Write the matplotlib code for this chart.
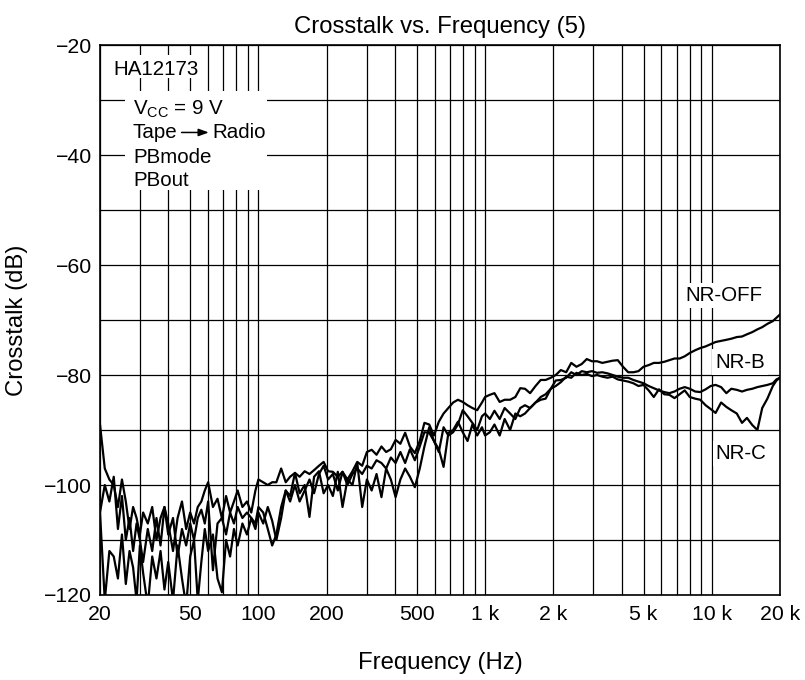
import matplotlib
matplotlib.use('Agg')
import matplotlib.pyplot as plt
from matplotlib.patches import Rectangle
from matplotlib.ticker import NullFormatter

##### Datos (frecuencia en Hz, diafonia en dB)
freq_hz = [
    20, 21, 22, 23, 24, 25, 26, 27, 28, 29,
    30, 31, 32.5, 34, 35.5, 37, 38.5, 40, 42, 44,
    46, 48, 50, 52, 54, 56, 58, 60, 63, 66,
    69, 72, 75, 78, 81, 85, 89, 93, 97, 100,
    105, 110, 115, 120, 126, 132, 138, 145, 152, 160,
    168, 176, 185, 194, 203, 213, 224, 235, 247, 260,
    273, 287, 301, 316, 332, 349, 366, 384, 403, 423,
    444, 466, 490, 515, 540, 567, 595, 625, 656, 689,
    723, 759, 797, 837, 879, 923, 969, 1000,
    1050, 1100, 1160, 1220, 1290, 1360, 1430, 1500, 1580, 1670,
    1760, 1850, 1950, 2050, 2160, 2280, 2400, 2530, 2670, 2810,
    2960, 3120, 3290, 3470, 3650, 3850, 4060, 4280, 4510, 4750,
    5000, 5270, 5550, 5850, 6170, 6500, 6850, 7220, 7600, 8000,
    8450, 8900, 9400, 9900, 10400, 11000, 11600, 12200, 12900, 13600,
    14300, 15100, 15900, 16700, 17600, 18600, 19300, 20000,
]

nr_off = [
    -89, -97, -99, -100, -104, -99, -103, -108, -104, -106,
    -109, -105, -107, -104, -110, -106, -104, -107, -112, -106,
    -103, -108, -105, -107, -104, -103, -101, -99.5, -104, -102.5,
    -106, -102, -105, -103, -101, -104, -103, -105, -101, -99,
    -99.5, -100, -99.5, -99.5, -97, -99.5, -98.5, -97.8, -98.5, -97.5,
    -98, -97.3, -96.5, -95.8, -97.5, -97.6, -98.5, -97.6, -99, -97.5,
    -95.8, -96.5, -94, -93.6, -94.5, -93, -94, -93.5, -91.8, -92.5,
    -90.5, -93, -94.2, -92, -88.7, -89, -91, -88.5, -87, -86,
    -85, -84.5, -84.9, -85.5, -86, -86.4, -85, -84,
    -83.6, -83.3, -84.9, -84.5, -84.5, -84, -82.4, -82.5, -83.3, -82,
    -80.9, -80.9, -80.5, -80, -79.1, -79.5, -77.8, -78.5, -78, -77.1,
    -77.5, -77.5, -77.8, -77.6, -77.4, -77.3, -78.5, -79.5, -79.5, -79.3,
    -78.5, -78.2, -77.8, -77.8, -77.6, -77.3, -77, -77, -76.6, -76,
    -75.5, -75.1, -74.8, -74.4, -74, -73.8, -73.6, -73.4, -73.1, -73,
    -72.6, -72.2, -71.7, -71.3, -70.7, -70.2, -69.6, -69,
]

nr_b = [
    -105, -100, -103, -98.5, -108, -102, -110, -106, -112, -107,
    -110, -114, -108, -112, -106, -111, -104, -109, -106, -113,
    -108, -111, -107, -110, -106, -104.5, -107, -103, -115.5, -107,
    -106, -109, -105, -107, -104, -106, -105, -106, -107, -104,
    -105, -108, -111, -109, -104, -101, -103, -100, -103, -101,
    -99, -101.5, -98, -96.5, -99, -98, -101, -97.6, -100, -98,
    -97, -98, -96.5, -97, -95.5, -96, -97, -95, -96, -94,
    -96, -93.5, -95.5, -93, -90.4, -90.5, -92, -94, -89.5, -91,
    -90.4, -89, -86.4, -87.5, -88.7, -90, -87.5, -87,
    -88, -86.5, -88, -86, -87, -88, -86, -85.5, -86, -85,
    -84.5, -84.3, -82.5, -81, -80.9, -80.5, -79.5, -80, -79.3, -79.5,
    -79.3, -79.6, -79.5, -79.7, -80, -80.3, -80.5, -80.5, -80.9, -81.2,
    -81.5, -82, -82.4, -82.8, -83.1, -83.3, -83, -82.5, -82.2, -82.5,
    -83, -83.1, -82.6, -82, -81.8, -82.2, -83.3, -82.5, -82.7, -83,
    -82.7, -82.5, -82.2, -82, -81.8, -81.5, -80.8, -80.5,
]

nr_c = [
    -105, -121, -112, -113, -117, -109, -118, -112, -115, -121,
    -111, -116, -122, -113, -117, -112, -119, -114, -121, -111,
    -117, -122, -113, -110, -121, -114, -108, -112, -109, -117,
    -119.5, -110, -113, -108, -111, -107, -109, -106, -108, -105,
    -107, -104, -106.5, -110, -106, -101, -102, -97.8, -101.5, -100,
    -105.8, -98.5, -97.5, -101.5, -100, -102, -97.6, -104, -99, -100,
    -96, -104, -99, -101, -98, -102.2, -97, -99, -102.2, -99,
    -97, -98.5, -100.4, -97, -93, -89.5, -92, -93.5, -96.7, -90.5,
    -90, -88.5, -90.4, -92, -89, -91, -89.5, -91,
    -90.4, -89, -91, -88, -90, -87, -87.5, -87, -86, -85,
    -84, -83.5, -82.5, -82, -81.3, -80.3, -80.5, -79.6, -80, -79.8,
    -80.2, -80, -80.3, -80.5, -80.3, -80.8, -81, -81.2, -81.5, -82,
    -81.8, -82.8, -84, -82.6, -83.5, -83.6, -84.2, -83.5, -82.8, -84,
    -84.3, -84.5, -85.5, -86.2, -86.9, -85, -85.8, -86.4, -87, -88.7,
    -87.8, -89.1, -90, -86, -84.3, -82, -81, -80.5,
]

ticks_x = [20, 50, 100, 200, 500, 1000, 2000, 5000, 10000, 20000]
etiquetas_x = ['20', '50', '100', '200', '500', '1 k', '2 k', '5 k', '10 k', '20 k']
menores_x = [30, 40, 60, 70, 80, 90, 300, 400, 600, 700, 800, 900,
             3000, 4000, 6000, 7000, 8000, 9000]
ticks_y = [-120, -100, -80, -60, -40, -20]
menores_y = [-110, -90, -70, -50, -30]

plt.rcParams['font.family'] = ['Liberation Sans', 'DejaVu Sans']
plt.rcParams['mathtext.fontset'] = 'custom'
plt.rcParams['mathtext.rm'] = 'Liberation Sans'

fig = plt.figure(figsize=(8.05, 6.8), dpi=100)
ax = fig.add_axes([0.1242, 0.125, 0.8447, 0.8088])

for serie in (nr_off, nr_b, nr_c):
    ax.plot(freq_hz, serie, color='black', lw=1.6, zorder=2)

ax.set_xscale('log')
ax.set_xlim(20, 20000)
ax.set_ylim(-120, -20)
ax.set_xticks(ticks_x)
ax.set_xticklabels(etiquetas_x)
ax.set_xticks(menores_x, minor=True)
ax.xaxis.set_minor_formatter(NullFormatter())
ax.set_yticks(ticks_y)
ax.set_yticks(menores_y, minor=True)
ax.grid(True, which='both', color='black', lw=0.9)
ax.set_axisbelow(True)
ax.tick_params(which='both', length=0, labelsize=15.3)
ax.tick_params(axis='x', pad=7)
ax.tick_params(axis='y', pad=6)
for s in ax.spines.values():
    s.set_linewidth(1.2)

ax.set_title('Crosstalk vs. Frequency (5)', fontsize=17.2, pad=9)
ax.set_xlabel('Frequency (Hz)', fontsize=17.2)
ax.set_ylabel('Crosstalk (dB)', fontsize=17.2)
ax.xaxis.label.set_va('center')
ax.yaxis.label.set_va('center')
ax.xaxis.set_label_coords(0.5, -0.124)
ax.yaxis.set_label_coords(-0.122, 0.5)

# recuadros blancos de las notas
ax.add_patch(Rectangle((0.007, 0.94), 0.144, 0.042, transform=ax.transAxes,
                       facecolor='white', edgecolor='none', zorder=2.5))
ax.add_patch(Rectangle((0.037, 0.736), 0.209, 0.18, transform=ax.transAxes,
                       facecolor='white', edgecolor='none', zorder=2.5))
fs_nota = 14.8
ax.text(0.019, 0.956, 'HA12173', transform=ax.transAxes, fontsize=fs_nota,
        va='center', ha='left', zorder=3)
y_notas = [0.883, 0.841, 0.796, 0.754]
ax.text(0.0485, y_notas[0], r'V$_{\mathrm{CC}}$ = 9 V', transform=ax.transAxes,
        fontsize=fs_nota, va='center', ha='left', zorder=3)
ax.text(0.0485, y_notas[1], 'Tape', transform=ax.transAxes,
        fontsize=fs_nota, va='center', ha='left', zorder=3)
ax.annotate('', xy=(0.16, y_notas[1]), xytext=(0.12, y_notas[1]),
            xycoords='axes fraction', zorder=3,
            arrowprops=dict(arrowstyle='-|>,head_length=0.6,head_width=0.22',
                            color='black', lw=1.1, shrinkA=0, shrinkB=0))
ax.text(0.166, y_notas[1], 'Radio', transform=ax.transAxes,
        fontsize=fs_nota, va='center', ha='left', zorder=3)
ax.text(0.0485, y_notas[2], 'PBmode', transform=ax.transAxes,
        fontsize=fs_nota, va='center', ha='left', zorder=3)
ax.text(0.0485, y_notas[3], 'PBout', transform=ax.transAxes,
        fontsize=fs_nota, va='center', ha='left', zorder=3)

caja = dict(facecolor='white', edgecolor='none', boxstyle='square,pad=0.15')
ax.text(0.918, 0.545, 'NR-OFF', transform=ax.transAxes, fontsize=fs_nota,
        ha='center', va='center', bbox=caja, zorder=3)
ax.text(0.941, 0.4236, 'NR-B', transform=ax.transAxes, fontsize=fs_nota,
        ha='center', va='center', bbox=caja, zorder=3)
ax.text(0.943, 0.258, 'NR-C', transform=ax.transAxes, fontsize=fs_nota,
        ha='center', va='center', bbox=caja, zorder=3)

fig.savefig('out.png', dpi=100)
